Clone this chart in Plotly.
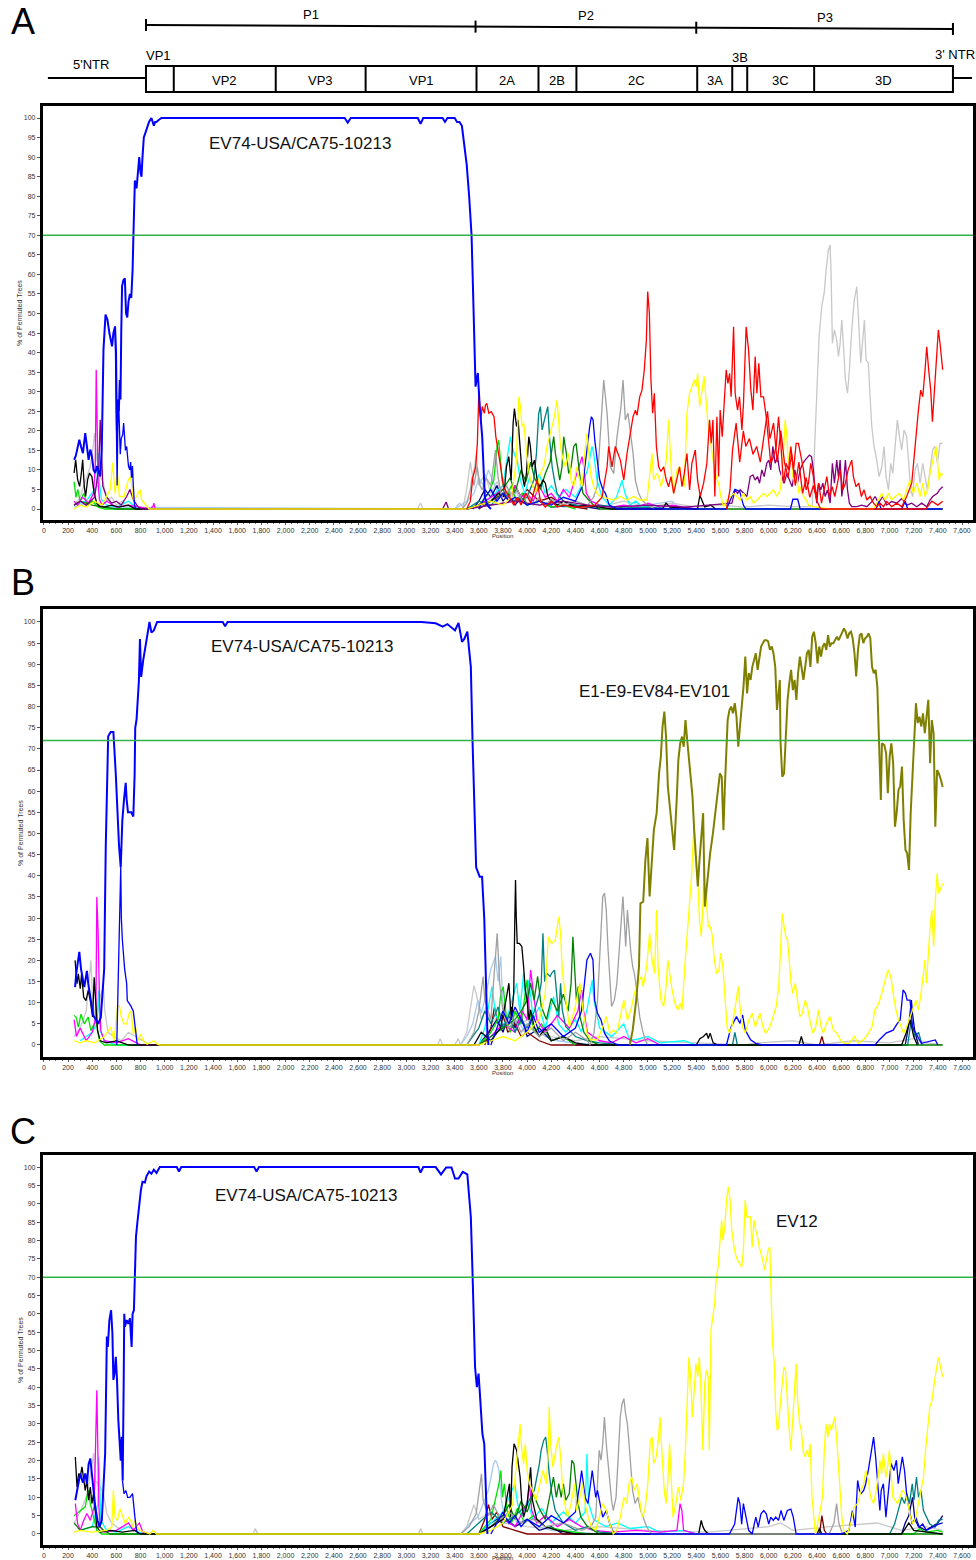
import plotly.graph_objects as go

# ---------------------------------------------------------------- genome map
GENE_BOUNDS = [845, 1075, 1919, 2663, 3581, 4094, 4408, 5408, 5698, 5822, 6376, 7525]
GENE_LABELS = ["", "VP2", "VP3", "VP1", "2A", "2B", "2C", "3A", "", "3C", "3D"]
P_BOUNDS = [845, 3573, 5400, 7525]
P_LABELS = ["P1", "P2", "P3"]

X_TICKS = list(range(0, 7601, 200))
Y_TICKS = list(range(0, 101, 5))
THRESHOLDS = [70, 72, 70]
PANEL_LETTERS = ["A", "B", "C"]

# ---------------------------------------------------------------- panel A
A_BLUE1 = [(250,12.6),(263,13.5),(274,15),(293,17.7),(307,16),(323,14.3),(342,19.4),(356,15.2),(370,12.6),(384,15.2),(397,13.5),(411,10),(425,9.2),(440,11),(452,10),(466,8.3),(479,15.2),(493,40.7),(510,49.7),(526,48.4),(542,45),(564,41.6),(575,45),(589,46.7),(597,40),(604,20),(610,28),(620,25),(628,33),(634,28),(640,45),(647,57),(658,58.5),(670,59),(680,50),(690,49),(700,53),(712,55),(723,54),(734,61),(740,69),(745,76),(753,84),(760,83),(767,82),(778,86),(789,90),(800,86),(808,85),(816,90),(827,95),(838,96),(849,97),(870,99),(890,100),(900,99),(910,98),(920,99),(931,99),(950,99.5),(973,100),(2490,100),(2515,98.8),(2540,100),(3095,100),(3118,98.5),(3140,100),(3300,100),(3320,99),(3340,100),(3400,100),(3420,99),(3440,99),(3460,98),(3480,93),(3500,88),(3520,80),(3540,70),(3550,58.6),(3567,41.5),(3573,31.3),(3592,34.8),(3608,26),(3628,18.5),(3641,10.8),(3650,3),(3658,2.3),(3670,1),(3700,0)]
A_BLUE2 = [(590,46),(600,15),(606,6),(612,22),(620,26),(626,20),(632,14),(640,18),(652,19),(660,22),(668,17),(675,15),(685,16),(692,12),(700,11),(710,10),(718,12),(725,8),(733,11),(740,6),(750,1),(760,0)]
A_BLUE3 = [(3600,0),(3650,3),(3700,5),(3750,2),(3800,4),(3850,2),(3900,3),(4000,1),(4100,2),(4200,1),(4300,3),(4400,2),(4460,6),(4496,16),(4518,21.1),(4532,23.6),(4546,22.8),(4560,17.6),(4579,12.5),(4601,7.4),(4628,4.9),(4648,4),(4680,1),(4750,0),(5650,0),(5690,3),(5720,5),(5760,4.5),(5790,1),(5810,0),(6180,0),(6200,2.5),(6240,2.5),(6260,0),(6890,0),(6910,2),(6930,0),(7100,0),(7130,2),(7150,0),(7440,0)]
A_RED = [(3500,0),(3530,2),(3550,8),(3574,10.8),(3588,16.8),(3600,29.6),(3617,22.8),(3628,26.2),(3646,24.5),(3655,26.6),(3666,27),(3683,24.5),(3703,24.9),(3726,23.6),(3741,18.5),(3765,14.2),(3781,10.8),(3804,5.7),(3833,4),(3862,2.3),(3890,1),(3920,3),(3950,1),(3990,4),(4030,1.5),(4083,7.4),(4110,2),(4150,0.5),(4200,2),(4250,0.5),(4300,1),(4400,0.5),(4500,0.6),(4560,1),(4620,3),(4662,10.8),(4675,16),(4703,10.8),(4730,16),(4772,12.5),(4800,7.4),(4827,14.2),(4855,19.4),(4877,23.6),(4896,25.3),(4910,24),(4932,28.7),(4951,30.4),(4970,35.6),(4987,43.2),(4998,55.6),(5012,50),(5025,33),(5039,24.5),(5053,29.6),(5070,16),(5089,10.8),(5108,9.6),(5130,10.8),(5152,7.4),(5171,5.7),(5191,8.3),(5213,4),(5240,7.4),(5262,10.8),(5282,5.7),(5301,9.1),(5323,14.2),(5345,4.9),(5364,11.7),(5392,15.1),(5411,7.4),(5433,3.2),(5461,6.6),(5488,11.7),(5510,22.8),(5524,16.8),(5538,22.8),(5554,3.2),(5571,23.6),(5585,8.3),(5598,25.3),(5615,18.5),(5631,27),(5648,35.6),(5662,32.1),(5676,34.7),(5689,28.7),(5709,46.6),(5722,29.6),(5742,25.3),(5758,28.7),(5778,20.2),(5791,27),(5813,46.6),(5833,40.7),(5852,30.4),(5869,25.3),(5888,39),(5902,29.6),(5918,37.3),(5935,28.7),(5957,28.7),(5979,23.6),(5998,18.5),(6017,11.7),(6040,13.4),(6062,16),(6081,23.6),(6100,16.8),(6122,6.6),(6144,11.7),(6164,10),(6183,16),(6205,10),(6227,16.8),(6246,16.8),(6266,13.4),(6288,10),(6310,4.9),(6329,6.6),(6348,11.7),(6370,8.3),(6392,3.2),(6414,6.6),(6437,1.5),(6459,4.9),(6481,8.3),(6503,3.2),(6525,5.7),(6547,3.2),(6569,6.6),(6591,10),(6613,4.9),(6635,6.6),(6657,10),(6674,11.7),(6687,12.5),(6701,8.3),(6723,5.7),(6745,6.6),(6767,3.2),(6789,4.9),(6812,2.3),(6839,3.2),(6867,1.5),(6894,0.6),(6922,1.5),(6949,0.6),(6977,1.9),(7018,0.6),(7060,1.5),(7101,0.6),(7142,3.2),(7184,6.6),(7211,16.8),(7239,25.3),(7258,30.4),(7275,28.7),(7294,35.6),(7308,41.5),(7324,35.6),(7341,30.4),(7355,22.3),(7371,30.4),(7391,40.7),(7404,45.8),(7418,42.4),(7440,35.6)]
A_RED2 = [(5650,0),(5680,5),(5700,15),(5730,22),(5760,12),(5790,20),(5810,16),(5840,18),(5870,14),(5900,16),(5930,12),(5960,18),(5990,25),(6010,18),(6040,22),(6070,12),(6100,20),(6130,12),(6160,8),(6190,14),(6220,6),(6250,12),(6280,4),(6310,8),(6340,3),(6370,6),(6400,2),(6430,0),(7300,0),(7350,2),(7400,1),(7440,2)]
A_GREY = [(3460,0),(3500,1.5),(3530,5),(3545,8.3),(3560,6),(3586,10.8),(3610,6),(3628,4.9),(3660,8),(3700,6),(3738,15.1),(3760,8),(3790,3),(3830,6),(3870,3),(3920,5),(3960,2),(4000,4),(4050,1),(4100,3),(4150,1),(4200,2.5),(4300,1),(4400,2),(4500,1),(4550,3),(4579,5.7),(4606,20.2),(4634,33),(4662,24.5),(4689,10.8),(4717,9.1),(4744,18.5),(4766,23.6),(4777,26.2),(4794,33),(4813,22.8),(4835,24.5),(4855,19.4),(4877,14.2),(4896,7.4),(4923,4),(4951,2.3),(4979,1.5),(5020,0.6),(5060,0)]
A_LGREY = [(250,1),(300,3),(356,8.3),(384,10.9),(405,15.2),(419,19.4),(438,12.6),(466,8.3),(493,6.6),(520,2),(560,3),(600,1),(650,2),(700,0.5),(750,1),(850,0),(3090,0),(3118,1.5),(3140,0),(3400,0),(3440,1.5),(3470,0.5),(3500,5),(3530,12),(3550,8),(3580,14),(3600,6),(3650,9),(3700,4),(3750,7),(3800,3),(3850,5),(3900,2),(4000,3),(4100,1),(4200,2),(4400,1),(4600,0.5),(4800,2),(5000,0.5),(5200,1.5),(5400,0.5),(5600,1),(5800,0.5),(6000,1),(6200,0.6),(6360,0.6),(6384,18.5),(6398,33),(6417,44.1),(6439,51.8),(6459,55.2),(6475,61.1),(6494,66.3),(6508,67.5),(6516,60.3),(6527,42.4),(6544,45.8),(6563,43.2),(6577,39),(6591,42.4),(6605,48.3),(6619,41.5),(6635,33),(6652,29.6),(6668,35.6),(6687,45.8),(6709,53.5),(6729,56.9),(6748,46.6),(6762,37.3),(6778,43.2),(6792,48.3),(6806,38.1),(6825,37.3),(6839,28.7),(6853,21.1),(6872,16),(6894,12.5),(6914,8.3),(6936,10.8),(6955,16),(6971,8.3),(6991,4.9),(7010,11.7),(7027,9.1),(7046,15.1),(7065,22.8),(7082,18.5),(7101,15.1),(7120,20.2),(7142,18.5),(7159,11.7),(7175,4.9),(7192,3.2),(7211,10),(7231,11.7),(7253,6.6),(7275,11.7),(7294,8.3),(7313,4.9),(7335,10),(7357,15.1),(7377,16),(7396,11.7),(7418,16.8),(7440,16.8)]
A_YELLOW = [(250,0),(300,1),(350,0.5),(420,2),(480,1),(548,5),(570,11.8),(589,4),(608,9.2),(625,3.2),(663,3.2),(699,7.5),(718,8.3),(740,2.4),(767,3.2),(795,5),(808,2.4),(849,0.7),(870,0),(3500,0),(3600,1),(3700,2),(3800,1),(3870,3),(3910,12),(3931,28.7),(3945,26.2),(3958,21.1),(3972,21.9),(3986,17.6),(3999,13.4),(4027,7.4),(4069,4),(4110,9.1),(4138,10.8),(4165,16),(4193,19.4),(4220,22.8),(4234,25.3),(4248,27.9),(4262,21.9),(4276,16),(4298,12.5),(4317,10.8),(4344,14.2),(4364,7.4),(4386,5.7),(4408,10.8),(4427,8.3),(4455,5.7),(4482,16),(4496,19.4),(4524,9.1),(4551,5.7),(4579,4),(4606,3.2),(4662,2.8),(4717,2.3),(4772,3.2),(4827,2.3),(4882,3.2),(4937,2.3),(4992,2.3),(5014,9.1),(5034,14.2),(5047,7.4),(5070,9.1),(5089,8.3),(5108,5.7),(5130,8.3),(5152,12.5),(5171,22.8),(5191,10.8),(5213,4),(5240,10),(5262,10.8),(5282,7.4),(5301,5.7),(5323,24.5),(5345,29.6),(5364,31.3),(5384,33),(5400,31.3),(5411,34.7),(5428,26.2),(5447,30.4),(5466,33.9),(5483,27),(5502,20.2),(5521,16.8),(5543,11.7),(5565,8.3),(5585,6.6),(5604,3.2),(5626,0.6),(5654,2.3),(5681,3.2),(5709,4),(5736,3.2),(5764,2.3),(5791,4),(5819,2.3),(5847,3.2),(5874,1.5),(5902,2.3),(5929,3.2),(5957,4),(5984,3.2),(6012,4),(6040,4.9),(6067,3.2),(6095,4.9),(6117,11.7),(6136,22.8),(6150,18.5),(6164,11.7),(6183,16),(6199,8.3),(6219,6.6),(6233,8.3),(6249,4),(6268,5.7),(6288,3.2),(6310,2.3),(6329,1),(6370,0.6),(6500,0),(6867,0),(6908,2.3),(6936,4),(6963,2.3),(6991,4),(7018,2.3),(7046,3.2),(7082,4),(7115,2.3),(7142,4.9),(7170,7.4),(7197,4),(7225,6.6),(7253,3.2),(7275,6.6),(7294,3.2),(7316,4.9),(7335,9.1),(7355,11.7),(7371,13.4),(7385,16),(7396,12.5),(7410,7.4),(7424,9.1),(7440,8.7)]
A_PURPLE = [(250,1),(300,2),(350,1),(420,3),(455,10.9),(466,22.8),(477,14.3),(488,5.8),(520,3),(560,1.5),(600,2),(640,1),(685,3.2),(712,5),(740,2.4),(780,0.5),(820,0),(3300,0),(3330,1.8),(3350,0),(3500,0),(3700,1),(3900,2),(4100,1),(4300,2),(4500,1),(4700,0.5),(5000,1),(5300,0.5),(5500,1),(5695,1.5),(5722,4.9),(5742,4),(5764,4.9),(5791,4),(5819,3.2),(5847,8.3),(5869,8.7),(5888,7.4),(5907,8.3),(5924,6.6),(5943,10),(5962,8.3),(5984,11.7),(6001,12.5),(6017,10),(6034,16),(6053,11.7),(6073,13.4),(6089,10),(6108,8.3),(6128,6.6),(6150,9.1),(6172,7.4),(6194,5.7),(6216,10),(6238,6.6),(6260,10),(6282,11.7),(6301,12.5),(6321,13.4),(6337,13.8),(6354,13.4),(6370,10),(6384,4.9),(6398,1.5),(6412,6.6),(6431,4.9),(6448,6.6),(6467,3.2),(6486,4.9),(6508,1.5),(6527,11.7),(6544,6.6),(6563,12.5),(6577,8.3),(6591,12.5),(6605,3.2),(6619,6.6),(6635,12.5),(6652,4.9),(6668,1.5),(6687,0.6),(6729,0.6),(6770,1),(6812,0.6),(6853,1.9),(6881,3.2),(6908,1.5),(6944,3.2),(6977,1),(7018,1.9),(7060,1.5),(7101,2.7),(7142,1),(7184,1.5),(7225,0.6),(7266,1.5),(7308,0.6),(7335,2.3),(7357,3.2),(7377,3.6),(7396,4),(7413,4.9),(7440,5.7)]
A_MAGENTA = [(250,2),(280,1),(320,3),(370,1.5),(411,4),(425,10.9),(433,35.6),(441,19.4),(449,6.6),(460,2.4),(480,1),(520,2),(600,0.5),(700,1),(800,0.5),(880,0),(904,0.7),(910,1.5),(920,0),(3500,0),(3600,1),(3700,3),(3800,5),(3850,2),(3900,6),(3950,3),(4000,4),(4050,2),(4100,6),(4150,3),(4200,4),(4250,2),(4300,5),(4350,3),(4400,8),(4430,11),(4455,13.4),(4469,10.8),(4490,4),(4530,2),(4600,1),(4700,0.5),(4800,1),(4900,0.5),(5000,1.5),(5100,0.5),(5200,1),(5300,0.5),(5400,0)]
A_BLACK = [(250,9.2),(263,12.6),(279,7.5),(296,5.8),(310,9.2),(321,12.6),(334,5.8),(345,3.2),(362,7.5),(378,9.2),(397,8.3),(416,4),(438,1.5),(460,0.7),(500,0.5),(560,1),(620,0.5),(700,1),(760,0),(3500,0),(3600,1),(3700,2),(3760,4),(3807,3.2),(3829,10.8),(3848,13.4),(3868,7.4),(3884,21.9),(3895,25.7),(3912,21.1),(3925,22.8),(3939,17.6),(3958,9.1),(3978,5.7),(3994,9.1),(4014,18.5),(4027,16),(4041,10.8),(4061,12.5),(4083,7.4),(4105,5.7),(4132,7.4),(4151,6.6),(4171,3.2),(4200,2),(4250,1),(4300,2),(4400,0.5),(4500,1),(4600,0.5),(4700,0),(5120,0),(5150,1.5),(5180,0.5),(5410,0),(5430,3.5),(5450,2),(5470,0.5),(5520,1),(5560,0)]
A_TEAL = [(3500,0),(3600,2),(3700,1),(3800,4),(3900,2),(4000,3),(4055,7.4),(4077,14.2),(4088,20.2),(4096,24.5),(4110,26.2),(4124,20.2),(4143,22.8),(4160,25.3),(4171,26.2),(4187,17.6),(4207,10.8),(4226,7.4),(4248,4),(4300,2),(4400,1),(4500,0.5),(4600,1),(4800,0.3),(5000,0.5),(5200,0)]
A_DGREEN = [(250,1),(300,2),(400,1),(500,0.5),(600,0),(3500,0),(3700,2),(3800,5),(3860,8),(3900,4),(3950,10),(3990,7),(4030,12),(4060,8),(4110,5),(4150,9),(4190,12),(4220,18.5),(4234,14.2),(4253,10.8),(4270,7.4),(4289,10.8),(4303,18.5),(4325,14.2),(4344,9.1),(4364,10.8),(4386,16),(4405,16.8),(4421,12.5),(4441,7.4),(4463,4),(4482,3.2),(4510,2.3),(4550,1),(4600,0),(7440,0)]
A_LIME = [(250,7),(265,3),(280,5),(300,2),(330,4),(360,1),(400,2),(450,0.5),(500,0),(3500,0),(3600,1),(3680,4),(3724,7.4),(3752,16),(3765,17.6),(3779,12.5),(3793,7.4),(3830,3),(3870,6),(3910,2),(3960,4),(4000,1),(4100,2),(4200,0.5),(4300,1),(4400,0)]
A_CYAN = [(250,1),(350,2),(438,5.8),(449,14.3),(460,6.6),(477,2.4),(520,1),(600,0.5),(700,2),(760,0.5),(800,0),(3500,0),(3600,1),(3700,3),(3800,6),(3862,18.5),(3876,16),(3895,14),(3917,12.5),(3945,7.4),(3980,4),(4020,8),(4060,5),(4100,9),(4150,4),(4200,6),(4260,3),(4320,5),(4400,3),(4450,6),(4500,10),(4537,16),(4551,14.2),(4579,7.4),(4620,3),(4680,1),(4740,3),(4786,7.4),(4810,4),(4850,1),(4900,2),(4950,0.5),(5050,1),(5150,0)]
A_LBLUE = [(250,0.5),(300,1),(400,2),(500,0.5),(3400,0),(3450,1),(3500,2),(3560,4),(3600,8),(3640,6),(3680,10),(3720,7),(3760,4),(3800,6),(3850,3),(3900,5),(3950,2),(4000,3),(4100,1),(4200,2),(4300,0.5),(4500,1),(4700,0.5),(5000,1),(5200,2),(5250,0.5),(5400,0)]
A_NAVY = [(3550,0),(3600,2),(3650,5),(3700,3),(3750,6),(3800,2),(3850,4),(3900,1),(3950,3),(4000,1),(4100,2),(4200,0.5),(4400,1),(4600,0)]
A_DRED = [(3600,0),(3700,2),(3800,4),(3850,2),(3900,6),(3950,3),(4000,5),(4100,2),(4200,3),(4300,1),(4500,0)]

# ---------------------------------------------------------------- panel B
B_BLUE1 = [(258,13.7),(268,17),(293,22),(307,18),(334,13.7),(356,17.5),(367,14.5),(389,11),(408,7),(430,6),(450,5),(471,6.5),(499,18),(512,47),(532,73),(553,74),(575,74),(595,64),(608,55),(622,47),(636,42),(649,53),(663,58),(677,62),(685,58),(696,55),(723,55),(740,54),(751,64),(756,75),(767,77),(778,83),(786,86),(795,96),(805,87),(822,91),(841,94),(874,100),(890,97.5),(910,98),(937,100),(964,100),(1480,100),(1500,99),(1520,100),(3126,100),(3243,99.7),(3301,98.9),(3340,99.5),(3403,98),(3432,99.8),(3461,95.3),(3480,96),(3505,97.7),(3534,89.4),(3548,72),(3563,58),(3569,50),(3578,42),(3607,39.8),(3627,39.8),(3645,30),(3659,14.6),(3671,2.8),(3680,0)]
B_BLUE2 = [(603,0),(612,10),(620,22),(630,35),(636,42),(641,30),(649,25),(668,18),(685,14.5),(690,10.5),(718,9.3),(740,8),(760,2.6),(773,0)]
B_BLUE3 = [(3700,0),(3750,4),(3800,8),(3850,5),(3900,9),(3950,6),(4000,3),(4050,7),(4100,3),(4200,5),(4300,2),(4400,4),(4450,8),(4495,20.1),(4524,21.7),(4545,20.1),(4559,10.6),(4583,7.5),(4612,5.9),(4641,2.8),(4680,1),(4750,0),(5650,0),(5689,4.3),(5733,6.7),(5762,5.1),(5783,7.1),(5806,3.5),(5850,1.2),(5893,0.4),(5950,0),(6880,0),(6914,1.2),(6972,2.8),(7030,3.5),(7065,5.1),(7088,5.9),(7112,13),(7132,12.2),(7146,10.6),(7170,10.6),(7190,4.3),(7219,2.8),(7263,0.4),(7379,1.2),(7400,0)]
B_OLIVE = [(4850,0),(4874,3.5),(4903,10.6),(4926,18.5),(4938,33.5),(4961,33.9),(4979,43.7),(4996,48.9),(5014,35.1),(5034,43),(5049,50.8),(5072,54.8),(5092,64.2),(5107,68.2),(5121,75.3),(5136,78.8),(5150,72.9),(5165,61.1),(5188,54),(5203,50.8),(5217,46.1),(5238,57.9),(5252,67.4),(5267,71.3),(5282,72.9),(5296,70.5),(5311,76.8),(5325,72.1),(5340,67.4),(5354,64.2),(5369,58.7),(5383,50.8),(5398,43.7),(5413,37.5),(5427,43.7),(5442,50),(5457,54.8),(5471,32.7),(5486,37.5),(5500,40.6),(5515,45.3),(5538,50),(5558,54.8),(5579,61.1),(5596,64.2),(5611,63.4),(5625,50.8),(5637,61.1),(5649,69.7),(5660,76.8),(5675,79.2),(5689,80),(5704,78.4),(5719,80.8),(5733,77.6),(5748,70.5),(5762,75.3),(5777,80),(5791,84.7),(5806,91.8),(5821,83.1),(5835,87.9),(5850,86.3),(5864,89.4),(5879,91),(5893,92.6),(5908,88.7),(5922,91),(5937,94.2),(5951,95),(5966,95.7),(5981,95.7),(5995,95.4),(6010,93.4),(6025,94.2),(6039,92.6),(6054,89.4),(6068,79.2),(6083,83.1),(6092,86.3),(6097,72.1),(6112,63.4),(6127,64.2),(6141,73.7),(6156,81.6),(6170,85.5),(6185,88.7),(6200,83.9),(6214,86.3),(6229,81.6),(6243,87.9),(6258,91.8),(6272,89.4),(6287,86.3),(6302,89.4),(6316,92.6),(6331,93.4),(6345,89.4),(6360,96.5),(6374,97.7),(6389,95),(6404,90.2),(6418,94.2),(6433,91.8),(6447,94.2),(6462,95),(6477,93.4),(6491,96.9),(6506,94.2),(6520,95),(6535,95),(6550,95.7),(6564,96.5),(6579,95.7),(6593,96.5),(6608,97.3),(6623,98.5),(6637,97.7),(6652,96.1),(6666,97.3),(6681,97.7),(6695,96.1),(6710,92.6),(6724,87.1),(6739,93.4),(6754,96.9),(6768,97.3),(6783,95),(6797,96.1),(6812,96.5),(6826,97.3),(6841,96.1),(6855,89.4),(6870,87.9),(6885,88.7),(6899,84.7),(6914,72.1),(6928,57.9),(6937,71.3),(6957,70.9),(6972,68.9),(6986,59.5),(7001,68.2),(7015,71.3),(7030,66.6),(7045,51.6),(7059,54.8),(7074,60.3),(7088,61.1),(7103,65.8),(7117,53.2),(7132,46.1),(7146,45.3),(7161,41.4),(7175,54.8),(7190,64.2),(7204,72.1),(7219,80.8),(7233,76.1),(7248,77.6),(7263,75.3),(7277,78.4),(7292,73.7),(7306,77.6),(7321,81.6),(7336,66.6),(7350,76.8),(7365,73.7),(7379,51.6),(7394,65),(7408,64.2),(7425,62.7),(7440,61)]
B_YELLOW = [(250,1),(300,0.5),(350,1),(420,0.5),(500,2),(553,4.2),(581,1),(608,8.9),(625,9.3),(641,6.6),(663,5),(685,5),(704,7.3),(723,8.1),(740,2.6),(759,4.2),(778,1),(800,2.6),(822,1),(855,0.2),(910,1),(937,0.2),(960,0),(3600,0),(3700,1),(3800,2),(3900,1),(4000,3),(4100,6),(4150,12),(4175,25.6),(4204,24),(4233,24.8),(4262,30.3),(4277,26.4),(4291,17.7),(4320,10.6),(4350,4.3),(4390,8),(4437,14.6),(4466,7.5),(4495,2.8),(4524,1.2),(4583,1.2),(4626,4.3),(4655,6.7),(4685,2.8),(4714,3.5),(4743,2.8),(4772,6.7),(4801,10.6),(4830,5.9),(4859,8.3),(4888,12.2),(4917,14.6),(4946,16.2),(4961,13.8),(4990,18.5),(5014,26.4),(5034,20.1),(5055,16.9),(5072,31.9),(5084,18.5),(5107,10.6),(5130,9.1),(5150,13.8),(5165,20.1),(5180,16.9),(5200,13),(5223,9.9),(5247,8.3),(5267,9.9),(5282,8.3),(5305,18.5),(5325,26.4),(5346,34.3),(5363,40.6),(5375,48.5),(5383,51.6),(5392,45.3),(5404,40.6),(5415,37.5),(5427,29.6),(5442,25.6),(5457,34.3),(5465,43),(5474,37.5),(5486,31.9),(5500,28),(5515,28),(5530,26.4),(5550,20.1),(5568,16.9),(5588,17.7),(5602,21.7),(5620,18.5),(5637,10.6),(5655,4.3),(5675,2.8),(5695,4.3),(5719,8.3),(5733,10.6),(5748,13.8),(5762,9.1),(5783,4.3),(5806,2.8),(5835,5.9),(5864,7.5),(5888,4.3),(5908,5.9),(5928,7.5),(5952,4.3),(5975,2.8),(6010,4.3),(6039,6.7),(6062,9.1),(6083,13.8),(6097,23.3),(6112,31.1),(6127,28),(6141,25.6),(6156,24.8),(6170,20.1),(6185,14.6),(6200,12.2),(6220,14.6),(6238,10.6),(6258,6.7),(6278,7.5),(6302,10.6),(6325,8.3),(6345,5.1),(6366,2.8),(6389,4.3),(6412,8.3),(6433,4.3),(6453,2.8),(6477,5.1),(6506,6.7),(6535,3.5),(6564,2.8),(6593,1.2),(6623,0.4),(6666,0.4),(6710,2),(6739,0.4),(6783,1.2),(6826,2.8),(6855,4.3),(6879,8.3),(6899,9.1),(6919,10.6),(6943,13),(6966,15.4),(6986,17.7),(7001,16.9),(7015,15.4),(7030,12.2),(7053,8.3),(7074,5.9),(7094,4.3),(7117,2.8),(7141,4.3),(7161,5.9),(7181,7.5),(7204,9.1),(7219,10.6),(7239,8.3),(7257,11.4),(7277,16.2),(7292,20.1),(7306,14.6),(7321,21.7),(7336,28),(7350,31.9),(7365,23.3),(7379,34.3),(7394,40.6),(7408,35.8),(7440,38.2)]
B_GREY = [(3500,0),(3560,3),(3600,8),(3636,16.2),(3650,10.6),(3700,6),(3752,26.4),(3761,20.1),(3773,14.6),(3800,8),(3850,4),(3900,6),(3950,3),(4000,5),(4100,2),(4200,4),(4300,1),(4400,3),(4500,1),(4520,0),(4553,2.8),(4583,10.6),(4597,18.5),(4612,30.3),(4626,35.1),(4641,35.9),(4655,31.9),(4670,22.5),(4685,14.6),(4699,9.1),(4722,10.6),(4743,14.6),(4763,22.5),(4781,29.6),(4793,35.1),(4804,29.6),(4816,23.3),(4830,31.9),(4845,26.4),(4859,21.7),(4874,18.5),(4888,16.9),(4903,13.8),(4917,10.6),(4932,6.7),(4955,3.5),(4976,1.2),(5000,0)]
B_LGREY = [(250,2),(300,4),(350,8),(389,20),(403,10.5),(430,5),(471,12),(493,13.7),(504,8.1),(530,3),(580,2),(640,1),(700,3),(760,2),(820,1),(880,0),(3260,0),(3280,1.5),(3300,0),(3400,0),(3430,1.5),(3450,0),(3500,3),(3560,14),(3580,12),(3620,6),(3660,9),(3700,5),(3800,8),(3900,4),(4000,6),(4100,3),(4200,2),(4400,1),(4600,2),(5000,1),(5400,0.5),(5800,0),(5900,0.5),(6200,1),(6400,0),(6700,1),(7000,0.5),(7200,1.5),(7300,0.5),(7440,0)]
B_BLACK = [(258,20),(274,14.5),(285,16.8),(301,13.3),(312,16.8),(329,11.3),(348,10.5),(367,12.9),(384,10.5),(403,6.6),(416,16),(430,8.1),(444,3.4),(466,1),(520,0.5),(600,1),(700,0),(3560,0),(3620,3),(3700,1),(3780,4),(3825,10.6),(3849,14.6),(3869,5.9),(3889,12.2),(3898,29.6),(3904,39),(3910,30.3),(3918,24),(3936,24),(3956,23.3),(3971,18.5),(3985,13),(4000,10.6),(4015,5.9),(4029,8.3),(4058,4.3),(4100,2),(4150,4),(4200,1),(4300,2),(4400,0.5),(4500,0),(5400,0),(5430,1.5),(5460,2),(5486,2.8),(5500,1.5),(5515,2.8),(5540,0.5),(5580,0),(6250,0),(6270,2),(6290,0),(7100,0),(7140,3),(7170,6),(7200,2),(7230,0)]
B_TEAL = [(3500,0),(3600,4),(3650,8),(3700,5),(3760,9),(3800,4),(3850,7),(3900,3),(3950,6),(4000,4),(4060,8),(4100,12),(4117,14.6),(4131,26.4),(4145,15),(4160,17),(4190,16.2),(4204,17),(4227,17.7),(4248,10.6),(4262,6.7),(4277,14.6),(4291,8.3),(4320,4.3),(4400,2),(4500,1),(4600,0.5),(4800,0),(5700,0),(5720,3),(5740,0),(7150,0),(7180,6),(7210,2),(7240,3),(7270,0)]
B_DGREEN = [(3600,0),(3700,2),(3800,4),(3900,6),(3950,8),(4000,10.6),(4029,14.6),(4058,10.6),(4087,16.2),(4117,9.1),(4160,6),(4200,11),(4250,8),(4300,12),(4340,8),(4364,14.6),(4379,25.6),(4393,18.5),(4408,10.6),(4423,13.8),(4437,6.7),(4470,3),(4520,1),(4600,0),(7440,0)]
B_LIME = [(250,7),(266,6.6),(285,4.2),(307,7.3),(334,5),(367,6.6),(389,3.4),(430,5.8),(460,1),(500,0),(3600,0),(3700,3),(3760,6),(3782,12.2),(3802,13.8),(3830,6),(3860,3),(3900,8),(3950,5),(4000,15.4),(4020,8),(4060,3),(4120,5),(4200,1),(4300,2),(4400,0)]
B_CYAN = [(300,1),(400,3),(438,5),(452,12.9),(466,3.4),(500,1),(600,0),(3600,0),(3650,4),(3709,13.8),(3740,7),(3800,4),(3850,8),(3913,14.6),(3940,8),(3971,17),(3990,10),(4015,15.4),(4050,6),(4100,9),(4150,4),(4219,11.4),(4260,5),(4320,3),(4400,6),(4450,3),(4500,9),(4539,15.4),(4553,10.6),(4600,4),(4700,2),(4800,5),(4850,1),(5000,2),(5100,0.5),(5300,1),(5400,0)]
B_MAGENTA = [(250,6),(270,2),(300,4),(350,1),(400,3),(430,6.6),(438,35),(449,26.3),(460,10.5),(471,3.4),(500,1),(600,0.5),(700,1.5),(800,0),(3600,0),(3700,2),(3800,5),(3900,3),(3960,8),(4000,6),(4029,17.7),(4044,13.8),(4080,6),(4150,3),(4250,7),(4350,4),(4420,8),(4452,13),(4466,8.3),(4500,3),(4600,1),(4700,0.5),(4800,2),(4900,0.5),(5000,1.5),(5100,0)]
B_LBLUE = [(3450,0),(3500,2),(3550,5),(3592,10.6),(3621,7.5),(3660,12),(3700,18),(3723,20.1),(3738,20.9),(3760,15),(3782,20.9),(3796,10.6),(3825,6.7),(3870,4),(3920,6),(3980,3),(4050,4),(4150,2),(4250,1),(4400,0.5),(4600,0)]
B_NAVY = [(3600,0),(3680,3),(3750,6),(3800,3),(3870,9),(3900,4),(3950,7),(4000,2),(4100,4),(4200,1),(4300,2),(4400,0),(7130,0),(7161,5.1),(7181,10.6),(7190,7.5),(7210,3),(7240,0)]
B_DRED = [(3650,0),(3700,4),(3730,9),(3760,5),(3800,7),(3840,3),(3900,5),(3950,2),(4000,3),(4100,1),(4200,0),(6420,0),(6440,2),(6460,0)]

# ---------------------------------------------------------------- panel C
C_BLUE1 = [(260,9.2),(279,12.8),(301,16.5),(323,14),(342,16.5),(356,13.7),(370,19),(384,20.6),(397,16.5),(411,11),(425,7.4),(444,3.7),(460,1.9),(479,3.7),(493,12.8),(507,22),(515,40),(521,53.8),(529,51),(534,52.9),(542,58.3),(556,61),(567,54.7),(575,42),(584,43.7),(595,48.3),(605,42),(616,31),(625,25.6),(636,20),(644,26.5),(652,14.6),(660,40),(665,60),(671,56.5),(685,58.3),(699,57.3),(712,58.8),(726,51),(734,60),(745,61),(753,69),(762,81),(773,84.7),(789,90),(803,93.8),(816,96),(836,95.8),(849,97.5),(871,98.8),(890,98.2),(910,99.3),(932,98.4),(959,100),(1100,100),(1118,98.8),(1137,100),(1740,100),(1760,98.8),(1780,100),(3100,100),(3118,98.5),(3140,100),(3243,100),(3287,98),(3330,99.9),(3374,99.9),(3403,96.9),(3432,96.9),(3467,98.7),(3505,98),(3534,86.4),(3549,70),(3558,54.6),(3569,45.5),(3584,40),(3598,43.7),(3607,39.2),(3630,27.3),(3645,24.6),(3659,9.2),(3671,0)]
C_BLUE2 = [(650,14.6),(663,11),(679,11.8),(693,10),(712,10),(734,11),(753,4.6),(767,1),(781,0)]
C_BLUE3 = [(3700,0),(3750,3),(3800,6),(3850,3),(3900,5),(3950,2),(4000,4),(4100,2),(4200,5),(4300,3),(4400,6),(4437,13.7),(4451,17.3),(4466,13.7),(4480,10),(4504,8.3),(4524,13.7),(4539,17.3),(4553,13.7),(4568,10),(4582,11.9),(4603,8.3),(4626,4.6),(4655,6.4),(4684,2.7),(4720,0),(5674,0),(5718,2.7),(5747,10),(5761,8.3),(5776,2.7),(5790,8.3),(5814,4.6),(5834,1),(5863,0),(5893,4.6),(5913,1.9),(5936,5.5),(5959,6.4),(5980,5.5),(6000,2.7),(6017,4.6),(6038,3.7),(6058,4.6),(6081,3.7),(6102,6.4),(6125,3.7),(6154,6.4),(6183,6.8),(6203,4.6),(6227,0),(6600,0),(6664,1),(6693,6.4),(6716,1.9),(6736,14.6),(6751,11.9),(6765,11),(6786,11.9),(6803,13.7),(6824,17.3),(6844,21),(6868,26.4),(6885,21),(6902,13.7),(6920,6.4),(6931,11.9),(6949,13.7),(6970,4.6),(6990,11.9),(7013,19.2),(7036,17.3),(7057,20.1),(7072,13.7),(7089,17.3),(7106,21),(7124,17.3),(7144,10),(7165,6.4),(7188,2.7),(7217,4.6),(7246,1.9),(7275,2.7),(7304,1),(7362,1.9),(7406,2.7),(7440,3)]
C_YELLOW = [(250,0.5),(300,1),(400,0.5),(521,1),(562,1.9),(575,11.9),(589,4.6),(608,3.7),(630,6.9),(652,4.6),(674,2.8),(699,4.6),(718,3.7),(734,1.9),(753,3.7),(773,1.9),(795,1),(877,0),(904,1),(932,0),(3600,0),(3700,1),(3800,3),(3880,8),(3942,30),(3956,22.8),(3971,19.2),(3985,24.6),(4000,17.3),(4020,13.7),(4044,11.9),(4073,9.2),(4102,13.7),(4131,17.3),(4160,13.7),(4175,22.8),(4183,34.6),(4195,24.6),(4213,18.2),(4233,22.8),(4247,24.6),(4262,26.4),(4277,21),(4291,13.7),(4306,9.2),(4335,4.6),(4364,8.3),(4393,13.7),(4408,6.4),(4437,10),(4457,13.7),(4480,8.3),(4504,4.6),(4533,1.9),(4568,1),(4597,4.6),(4626,8.3),(4655,6.4),(4684,2.8),(4713,0),(4742,1),(4771,4.6),(4801,10),(4824,8.3),(4844,13.7),(4865,15.5),(4888,11.9),(4911,13.7),(4932,9.2),(4952,4.6),(4975,6.4),(4999,13.7),(5019,25.5),(5034,26.4),(5048,19.2),(5068,21),(5086,25.5),(5100,31.9),(5115,22.8),(5135,11.9),(5150,8.3),(5164,13.7),(5179,24.6),(5193,13.7),(5208,4.6),(5231,8.3),(5252,12.8),(5272,9.2),(5295,13.7),(5310,22.8),(5324,36.4),(5339,48.2),(5354,42.8),(5368,31.9),(5383,39.2),(5397,46.4),(5412,42.8),(5426,48.2),(5441,37.3),(5455,22.8),(5470,41),(5485,44.6),(5499,42.8),(5508,22.8),(5522,55.5),(5537,59.2),(5552,62.8),(5566,70),(5581,72.8),(5595,79.1),(5610,85.5),(5621,80.1),(5636,83.7),(5651,91),(5665,94.6),(5680,91),(5694,82.8),(5709,79.1),(5723,76.4),(5741,74.6),(5761,73.7),(5776,72.8),(5790,77.3),(5805,91),(5820,86.4),(5834,86.4),(5849,86.4),(5863,78.2),(5878,85.5),(5893,82.8),(5907,81),(5922,78.2),(5936,76.4),(5951,74.6),(5965,71.9),(5980,74.6),(5994,77.3),(6009,78.2),(6017,68.2),(6032,51.9),(6046,46.4),(6058,33.7),(6070,28.2),(6081,29.1),(6096,35.5),(6110,41),(6125,45.5),(6139,44.6),(6154,35.5),(6168,29.1),(6183,22.8),(6198,31.9),(6212,41),(6227,46.4),(6241,35.5),(6256,30.1),(6270,28.2),(6285,22.8),(6299,21),(6314,22.8),(6329,21),(6343,24.6),(6358,10),(6372,4.6),(6387,0),(6416,4.6),(6445,10),(6460,22.8),(6474,30),(6489,26.4),(6503,30),(6518,28.2),(6532,30),(6547,31.9),(6562,26.4),(6576,19.2),(6591,10),(6605,4.6),(6620,1),(6649,0),(6678,2.7),(6707,7.3),(6736,8.3),(6765,11.9),(6786,13.7),(6803,17.3),(6824,14.6),(6844,10),(6868,8.3),(6885,11),(6905,15.5),(6920,20.1),(6934,16.4),(6949,21.9),(6970,15.5),(6984,18.2),(6999,22.8),(7013,17.3),(7028,10),(7048,9.2),(7066,8.3),(7086,10),(7106,11.9),(7129,11),(7153,8.3),(7173,4.6),(7194,2.7),(7217,4.6),(7240,8.3),(7260,11.9),(7281,15.5),(7298,22.8),(7316,30),(7333,34.6),(7351,36.4),(7368,41),(7383,44),(7405,48.2),(7420,45.5),(7440,42.8)]
C_TEAL = [(3500,0),(3600,3),(3700,6),(3800,3),(3900,5),(4000,8),(4060,12),(4102,19.2),(4116,22.8),(4137,25.5),(4154,26.4),(4166,22.8),(4183,16.4),(4204,11),(4233,6.4),(4300,3),(4400,1),(4500,2),(4600,0.5),(4800,0),(7000,0),(7042,2.7),(7072,6.4),(7101,10),(7124,8.3),(7144,11),(7165,8.3),(7188,13.7),(7202,9.2),(7223,15.5),(7240,10),(7260,11.9),(7281,6.4),(7304,4.6),(7333,2.7),(7377,1.9),(7406,3.7),(7440,4)]
C_DGREEN = [(250,3),(300,1),(400,2),(466,1.9),(493,1),(550,0),(3600,0),(3700,2),(3800,5),(3850,8),(3900,4),(3950,9),(4000,6),(4050,11),(4100,7),(4150,4),(4218,15.5),(4242,10),(4262,13.7),(4282,10),(4300,13.7),(4320,9.2),(4349,11),(4370,20.1),(4387,19.2),(4402,13.7),(4422,8.3),(4445,4.6),(4500,2),(4600,0),(7440,0)]
C_LIME = [(250,5),(342,7.4),(356,10.1),(370,11.9),(384,8.3),(397,6.5),(416,3.7),(438,1),(480,0),(3600,0),(3700,4),(3767,13.7),(3782,17.3),(3796,10),(3811,13.7),(3834,6.4),(3870,3),(3920,7),(3980,3),(4050,5),(4150,2),(4300,1),(4500,0),(7200,0),(7250,1.5),(7300,0.5),(7400,1),(7440,0.5)]
C_BLACK = [(260,21),(274,12.8),(288,16.5),(301,15.6),(315,18.3),(329,14.6),(342,11.9),(356,14.6),(370,9.2),(384,12.8),(397,8.3),(411,11),(425,5.6),(438,1.9),(470,0.5),(550,1),(650,0.5),(750,1),(800,0),(3600,0),(3700,2),(3800,4),(3854,13.7),(3863,4.6),(3875,18.2),(3892,24.6),(3913,22.8),(3927,19.2),(3942,15.5),(3956,8.3),(3971,4.6),(4000,8),(4015,13.7),(4029,18.2),(4044,9.2),(4080,4),(4150,2),(4250,1),(4400,0),(5420,0),(5441,3.7),(5455,2),(5470,1),(5500,0),(6400,0),(6420,1.5),(6440,0),(7100,0),(7160,3),(7200,1),(7440,0)]
C_MAGENTA = [(260,8.3),(279,2.8),(301,1),(329,3.7),(356,5.6),(384,3.7),(416,7.4),(430,31),(438,39.2),(447,21.9),(455,7.4),(466,1.9),(500,0.5),(600,1),(700,3),(740,1),(790,3),(820,0.5),(880,0),(3600,0),(3700,2),(3800,4),(3900,2),(3950,5),(4000,8.3),(4020,13.7),(4038,6.4),(4080,3),(4150,5),(4250,2),(4350,4),(4450,2),(4550,1),(4700,0.5),(4900,1),(5100,0.5),(5240,1),(5266,8.3),(5281,6.4),(5295,1),(5400,0)]
C_CYAN = [(300,1),(400,2),(447,8.3),(455,21),(463,12.8),(471,3.7),(520,1),(600,0.5),(700,2),(780,0.5),(850,0),(3600,0),(3700,3),(3800,6),(3898,13.7),(3921,8.3),(3960,5),(4000,9),(4050,4),(4120,7),(4200,3),(4300,6),(4400,3),(4480,6),(4495,21.9),(4504,13.7),(4509,8.3),(4550,4),(4650,2),(4750,3),(4850,1.5),(5000,2),(5100,0.5),(5300,1),(5400,0)]
C_LBLUE = [(3450,0),(3530,3),(3592,4.6),(3636,8.3),(3680,12),(3723,19.2),(3738,20.1),(3752,19.2),(3767,17.3),(3787,9.2),(3811,4.6),(3860,6),(3920,3),(4000,4),(4100,2),(4200,1),(4400,0.5),(4600,0)]
C_GREY = [(3450,0),(3520,2),(3578,5.5),(3607,11.9),(3622,16.4),(3636,9.2),(3680,5),(3720,8),(3780,4),(3850,6),(3950,3),(4050,4),(4150,2),(4300,3),(4450,1),(4530,2),(4568,4.6),(4597,22.8),(4612,20.1),(4626,24.6),(4640,31.9),(4655,24.6),(4670,19.2),(4684,13.7),(4699,9.2),(4713,6.4),(4736,10),(4757,22.8),(4771,31.9),(4786,35.5),(4801,36.9),(4815,32.8),(4830,30),(4844,24.6),(4859,17.3),(4873,11.9),(4894,8.3),(4917,10),(4940,6.4),(4961,4.6),(4990,1.9),(5030,0),(6500,0),(6540,3),(6562,8.3),(6580,3),(6610,0)]
C_LGREY = [(250,3),(300,6),(350,10),(397,18.3),(411,22),(425,14.6),(466,12.8),(493,11),(521,5.6),(560,3),(620,1.5),(700,2),(800,1),(860,0),(1730,0),(1750,1.5),(1770,0),(3100,0),(3118,1.5),(3135,0),(3450,0),(3500,2),(3560,8),(3600,4),(3700,6),(3800,3),(4000,2),(4300,1),(4600,2),(5000,1),(5500,0.5),(6000,2),(6100,3),(6200,1),(6500,2),(6900,3),(7100,1),(7300,2),(7440,1)]
C_NAVY = [(3600,0),(3700,3),(3800,5),(3900,2),(4000,4),(4100,1),(4200,2),(4300,0),(7100,0),(7130,3),(7160,5),(7190,10),(7210,4),(7240,2),(7300,1),(7400,3),(7440,5)]
C_DRED = [(3600,0),(3650,4),(3680,8),(3710,4),(3750,6),(3800,2),(3900,1),(4000,0),(6420,0),(6440,5),(6460,1),(6480,0)]

# ---------------------------------------------------------------- colours
COL = dict(blue="#0000ff", red="#ff0000", grey="#a0a0a0", lgrey="#c8c8c8",
           yellow="#ffff00", purple="#800080", olive="#808000", magenta="#ff00ff",
           black="#000000", teal="#008080", dgreen="#008000", lime="#00e000",
           cyan="#00ffff", lblue="#a6caf0", navy="#000080", dred="#800000")

PANEL_SERIES = [
    [("lgrey", A_LGREY), ("lblue", A_LBLUE), ("navy", A_NAVY), ("dred", A_DRED), ("cyan", A_CYAN),
     ("lime", A_LIME), ("magenta", A_MAGENTA), ("teal", A_TEAL), ("dgreen", A_DGREEN), ("black", A_BLACK),
     ("grey", A_GREY), ("purple", A_PURPLE), ("blue", A_BLUE3), ("yellow", A_YELLOW), ("red", A_RED2),
     ("red", A_RED), ("blue", A_BLUE2), ("blue", A_BLUE1)],
    [("lgrey", B_LGREY), ("lblue", B_LBLUE), ("navy", B_NAVY), ("dred", B_DRED), ("cyan", B_CYAN),
     ("lime", B_LIME), ("magenta", B_MAGENTA), ("teal", B_TEAL), ("dgreen", B_DGREEN), ("black", B_BLACK),
     ("grey", B_GREY), ("blue", B_BLUE3), ("yellow", B_YELLOW), ("olive", B_OLIVE),
     ("blue", B_BLUE2), ("blue", B_BLUE1)],
    [("lgrey", C_LGREY), ("lblue", C_LBLUE), ("navy", C_NAVY), ("dred", C_DRED), ("cyan", C_CYAN),
     ("lime", C_LIME), ("magenta", C_MAGENTA), ("teal", C_TEAL), ("dgreen", C_DGREEN), ("black", C_BLACK),
     ("grey", C_GREY), ("blue", C_BLUE3), ("yellow", C_YELLOW), ("blue", C_BLUE2), ("blue", C_BLUE1)],
]
MAIN_LABELS = [
    [("EV74-USA/CA75-10213", 300, 143)],
    [("EV74-USA/CA75-10213", 302, 646), ("E1-E9-EV84-EV101", 655, 691)],
    [("EV74-USA/CA75-10213", 306, 1195), ("EV12", 798, 1221)],
]

# ---------------------------------------------------------------- layout geometry (pixels)
W, H = 976, 1560
FRAME_L, FRAME_R = 42, 974
X_RANGE = [-8.3, 7691]
PANELS = [dict(top=106, bottom=520, yr=[-2.81, 103.07], letter_y=22, pos_y=536, mid=313),
          dict(top=609, bottom=1057, yr=[-2.84, 103.07], letter_y=582, pos_y=1073, mid=833),
          dict(top=1155, bottom=1545, yr=[-3.0, 103.3], letter_y=1131, pos_y=1558, mid=1350)]
FONT = "Arial, Liberation Sans, sans-serif"

def px(x):
    return x / W

def py(y):
    return 1 - y / H

def text(t, x, y, size, xref="paper", yref="paper", angle=0, color="black"):
    if xref == "paper":
        x, y = px(x), py(y)
    return dict(text=t, x=x, y=y, xref=xref, yref=yref, showarrow=False, xanchor="center",
                yanchor="middle", textangle=angle, font=dict(family=FONT, size=size, color=color))

fig = go.Figure()
annotations = []
shapes = []
layout = {}

for i, panel in enumerate(PANELS):
    n = "" if i == 0 else str(i + 1)
    xa, ya = "x" + n, "y" + n
    for cname, pairs in PANEL_SERIES[i]:
        big = pairs is A_BLUE1 or pairs is B_BLUE1 or pairs is C_BLUE1 or pairs is B_OLIVE
        fig.add_trace(go.Scatter(
            x=[p[0] for p in pairs], y=[p[1] for p in pairs], mode="lines",
            line=dict(color=COL[cname], width=2.0 if big else 1.3),
            xaxis=xa, yaxis=ya, hoverinfo="skip", showlegend=False))
    layout["xaxis" + n] = dict(
        domain=[px(FRAME_L), px(FRAME_R)], range=X_RANGE, anchor=ya,
        tickvals=X_TICKS, ticktext=[f"{v:,}" for v in X_TICKS],
        showgrid=False, zeroline=False, showline=True, linecolor="black", linewidth=3, mirror=True,
        ticks="outside", ticklen=2, tickwidth=1, tickcolor="#555",
        minor=dict(dtick=50, ticks="outside", ticklen=1, tickcolor="#777"),
        tickfont=dict(family=FONT, size=7, color="#333"))
    layout["yaxis" + n] = dict(
        domain=[py(panel["bottom"]), py(panel["top"])], range=panel["yr"], anchor=xa,
        tickvals=Y_TICKS, showgrid=False, zeroline=False, showline=True, linecolor="black",
        linewidth=3, mirror=True, ticks="outside", ticklen=3, tickwidth=1, tickcolor="#555",
        tickfont=dict(family=FONT, size=7, color="#333"))
    shapes.append(dict(type="line", xref=xa + " domain", yref=ya, x0=0, x1=1,
                       y0=THRESHOLDS[i], y1=THRESHOLDS[i],
                       line=dict(color="#2db34a", width=1.5), layer="above"))
    annotations.append(text(PANEL_LETTERS[i], 22, panel["letter_y"], 36))
    annotations.append(text("Position", 503, panel["pos_y"], 6, color="#333"))
    annotations.append(text("% of Permuted Trees", 19, panel["mid"], 7, angle=-90, color="#333"))
    for txt, lx, ly in MAIN_LABELS[i]:
        annotations.append(text(txt, lx, ly, 17, color="#111"))

# ---------------------------------------------------------------- genome map (nucleotide x, pixel-row y)
layout["xaxis4"] = dict(domain=[px(FRAME_L), px(FRAME_R)], range=X_RANGE, visible=False, anchor="y4")
layout["yaxis4"] = dict(domain=[py(104), 1], range=[104, 0], visible=False, anchor="x4")
LINE = dict(color="black", width=2)
shapes.append(dict(type="line", xref="x4", yref="y4", x0=P_BOUNDS[0], x1=P_BOUNDS[-1], y0=25, y1=29, line=LINE))
for b in P_BOUNDS:
    yc = 25 + 4 * (b - P_BOUNDS[0]) / (P_BOUNDS[-1] - P_BOUNDS[0])
    shapes.append(dict(type="line", xref="x4", yref="y4", x0=b, x1=b, y0=yc - 6, y1=yc + 6, line=LINE))
for k, lab in enumerate(P_LABELS):
    annotations.append(text(lab, (P_BOUNDS[k] + P_BOUNDS[k + 1]) / 2, 14 + k * 1.8, 13, "x4", "y4"))
shapes.append(dict(type="rect", xref="x4", yref="y4", x0=GENE_BOUNDS[0], x1=GENE_BOUNDS[-1], y0=66, y1=92,
                   line=LINE, fillcolor="white"))
for b in GENE_BOUNDS[1:-1]:
    shapes.append(dict(type="line", xref="x4", yref="y4", x0=b, x1=b, y0=66, y1=92, line=LINE))
shapes.append(dict(type="line", xref="x4", yref="y4", x0=33, x1=GENE_BOUNDS[0], y0=78, y1=78, line=LINE))
shapes.append(dict(type="line", xref="x4", yref="y4", x0=GENE_BOUNDS[-1], x1=7683, y0=78, y1=78, line=LINE))
for k, lab in enumerate(GENE_LABELS):
    if lab:
        annotations.append(text(lab, (GENE_BOUNDS[k] + GENE_BOUNDS[k + 1]) / 2, 80, 13, "x4", "y4"))
for txt, gx, gy in [("VP1", 951, 55), ("3B", 5764, 57), ("5'NTR", 389, 64), ("3' NTR", 7542, 54)]:
    annotations.append(text(txt, gx, gy, 13, "x4", "y4"))

fig.update_layout(width=W, height=H, margin=dict(l=0, r=0, t=0, b=0), paper_bgcolor="white",
                  plot_bgcolor="white", annotations=annotations, shapes=shapes, **layout)
fig.write_html("out.html", config={"displayModeBar": False},
               post_script="document.body.style.margin='0px';document.body.style.overflow='hidden';")
